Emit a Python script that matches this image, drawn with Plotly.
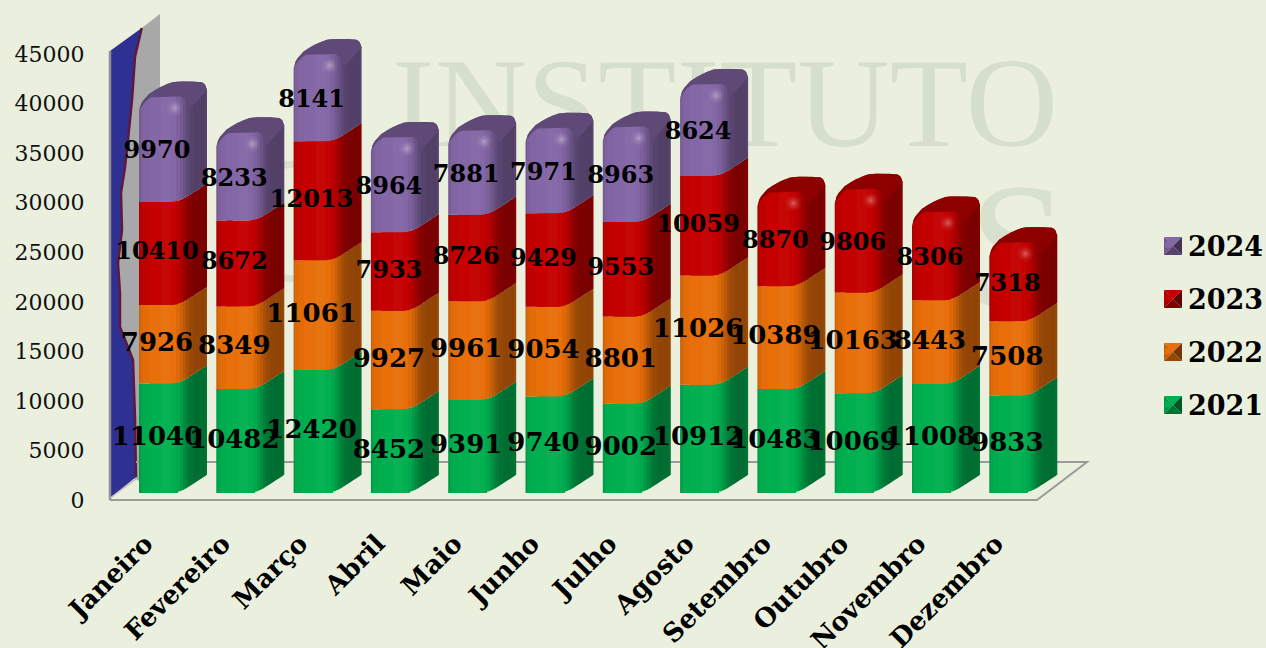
import numpy as np
import plotly.graph_objects as go

months = ["Janeiro","Fevereiro","Março","Abril","Maio","Junho","Julho","Agosto","Setembro","Outubro","Novembro","Dezembro"]
v2021 = [11040,10482,12420,8452,9391,9740,9002,10912,10483,10069,11008,9833]
v2022 = [7926,8349,11061,9927,9961,9054,8801,11026,10389,10163,8443,7508]
v2023 = [10410,8672,12013,7933,8726,9429,9553,10059,8870,9806,8306,7318]
v2024 = [9970,8233,8141,8964,7881,7971,8963,8624,None,None,None,None]
series_names = ["2021","2022","2023","2024"]
series_vals = [v2021,v2022,v2023,v2024]
series_cols = ["#00B050","#E86F0A","#C40000","#8467A6"]
label_sizes = [26,26,24,24]
y_ticks = list(range(0,45001,5000))

BG = "#EAF0DD"
L,R,T,B = 110,1090,0,510
W,H = 1266,648
PITCH = 77.3
PX0 = 164
SCALE = 0.00991
Y0 = 497
OFF = (Y0-493)/SCALE
FW = 50.0

def px_x(u, i): return i + (u-FW/2)/PITCH
def rise(px): return px/SCALE
def pap(x,y): return (x-L)/(R-L), 1-(y-T)/(B-T)
def path(pts, close=True):
    s=[]
    for k,(x,y) in enumerate(pts):
        a,b=pap(x,y)
        s.append(("M" if k==0 else "L")+f"{a:.5f},{b:.5f}")
    return " ".join(s)+(" Z" if close else "")

def shade(hexc,f):
    r,g,b=[int(hexc[j:j+2],16) for j in (1,3,5)]
    c=[min(255,int(x*f)) if f<=1 else min(255,int(x+(255-x)*(f-1))) for x in (r,g,b)]
    return "rgb(%d,%d,%d)"%tuple(c)

def edge(u):
    u=np.asarray(u,float)
    return np.where(u<31,0,np.where(u<49,0.65*(u-31)**2/36,5.85+0.65*(u-49)))
cap_u=[0,1,3,6,11,21,30,35,40,60,64,66,68]
cap_r=[-8,-3,1,5,10,16,20,21.2,21.5,21.5,20.5,18.5,13]
def cap(u): return np.interp(u,cap_u,cap_r)
capl_u=[0,2,5,9,14,42,46,49,51,68]
capl_r=[-8,-4,0,4,6.5,6.5,4,0,-6,13]

strips=[(0,1.5,.88),(1.5,4,.95),(4,10,.98),(10,22,1.0),(22,32,1.03),(32,37,1.0),(37,41,.95),(41,44,.88),(44,47,.80),(47,50,.72),(50,54,.66),(54,62,.63),(62,66,.62),(66,68,.66)]

fig=go.Figure()
wm_x=[(725-PX0)/PITCH,(1018-PX0)/PITCH,(285-PX0)/PITCH]
wm_y=[(Y0-114)/SCALE,(Y0-262)/SCALE,(Y0-235)/SCALE]
fig.add_trace(go.Scatter(x=wm_x[:1],y=wm_y[:1],mode="text",text=["INSTITUTO"],showlegend=False,hoverinfo="skip",
    textfont=dict(family="Liberation Serif",size=128,color="#D6DFCB")))
fig.add_trace(go.Scatter(x=wm_x[1:],y=wm_y[1:],mode="text",text=["S","C"],showlegend=False,hoverinfo="skip",
    textfont=dict(family="Liberation Serif",size=180,color="#D8E0CE")))

n=len(months)
cum=[0]*n
bases=[]
for vals in series_vals:
    base=[]
    for i in range(n):
        base.append(cum[i])
        if vals[i] is not None: cum[i]+=vals[i]
    bases.append(base)
totals=cum

for s,(name,vals,col) in enumerate(zip(series_names,series_vals,series_cols)):
    fig.add_trace(go.Bar(x=list(range(n)),y=vals,base=[OFF+b for b in bases[s]],width=28/PITCH,name=name,
        marker=dict(color=col,line=dict(width=0)),showlegend=False,hoverinfo="skip"))
# legend entries, newest year first as in the reference
for name,col in list(zip(series_names,series_cols))[::-1]:
    fig.add_trace(go.Scatter(x=[None],y=[None],mode="markers",name=name,legendgroup=name,
        marker=dict(size=6,color=col,symbol="square"),hoverinfo="skip"))

for s,(name,vals,col) in enumerate(zip(series_names,series_vals,series_cols)):
    for (u0,u1,f) in strips:
        xs,ys=[],[]
        for i in range(n):
            if vals[i] is None: continue
            lo=OFF+bases[s][i]; hi=lo+vals[i]
            top=(hi>=OFF+totals[i]-0.5)
            us=np.linspace(u0,min(u1+0.7,68),6)
            xs+=[px_x(u,i) for u in us]
            ys+=[hi+rise(c) for c in (cap(us) if top else edge(us))]
            xs+=[px_x(u,i) for u in us[::-1]]
            ys+=[lo+rise(c) for c in edge(us[::-1])]
            xs.append(None); ys.append(None)
        fig.add_trace(go.Scatter(x=xs,y=ys,mode="lines",fill="toself",fillcolor=shade(col,f),
            line=dict(width=0),showlegend=False,hoverinfo="skip"))
    xs,ys,hx,hy=[],[],[],[]
    for i in range(n):
        if vals[i] is None: continue
        hi=OFF+bases[s][i]+vals[i]
        if hi<OFF+totals[i]-0.5: continue
        uu=np.linspace(0,68,60)
        xs+=[px_x(u,i) for u in uu]; ys+=[hi+rise(c) for c in cap(uu)]
        ul=np.linspace(68,0,60)
        xs+=[px_x(u,i) for u in ul]; ys+=[hi+rise(c) for c in np.interp(ul,capl_u,capl_r)]
        xs.append(None); ys.append(None)
        hx.append(px_x(36,i)); hy.append(hi-rise(5))
    if hx:
        fig.add_trace(go.Scatter(x=xs,y=ys,mode="lines",fill="toself",fillcolor=shade(col,.72),
            line=dict(width=0),showlegend=False,hoverinfo="skip"))
        for sz,op in ((16,.07),(12,.1),(9,.14),(6,.2),(3,.3)):
            fig.add_trace(go.Scatter(x=hx,y=hy,mode="markers",showlegend=False,hoverinfo="skip",
                marker=dict(size=sz,color=shade(col,1.55),opacity=op,line=dict(width=0))))

# data labels
for s,(name,vals) in enumerate(zip(series_names,series_vals)):
    lx,ly,lt=[],[],[]
    for i in range(n):
        if vals[i] is None: continue
        lx.append(i-7/PITCH); ly.append(OFF+bases[s][i]+vals[i]/2); lt.append(str(vals[i]))
    fig.add_trace(go.Scatter(x=lx,y=ly,mode="text",text=lt,textposition="middle center",showlegend=False,hoverinfo="skip",
        textfont=dict(family="DejaVu Serif",size=label_sizes[s],color="#000",weight=700)))

wave=[(141.7,28),(135,57),(132,100),(128,140),(125,167),(121,193),(122,230),(118,263),(120,293),(120,327),(128,347),(133,360),(135,417),(136,477)]
shapes=[
 dict(type="path",xref="paper",yref="paper",layer="below",path=path([(118,60),(141.7,28),(160,14),(160,90),(139,120),(139,481),(136,479),(118,479)]),fillcolor="#A8A8A8",line=dict(width=0)),
 dict(type="path",xref="paper",yref="paper",layer="below",path=path([(110,51),(141.7,28)]+wave[1:]+[(110,498)]),fillcolor="#2E3192",line=dict(width=0)),
 dict(type="path",xref="paper",yref="paper",layer="below",path=path(wave,False),line=dict(color="#5E1A3E",width=2.5)),
 dict(type="path",xref="paper",yref="paper",layer="below",path=path([(110,500),(1037,500),(1087,462),(136,462)],False),line=dict(color="#9A9A9A",width=2)),
 dict(type="path",xref="paper",yref="paper",layer="below",path=path([(110,500),(110,51)],False),line=dict(color="#8E8E98",width=2.5)),
 dict(type="path",xref="paper",yref="paper",layer="below",path=path([(110,498),(136,479)],False),line=dict(color="#B8B8B8",width=1.5)),
]
leg_ys=[246,299,352,405]
leg_cols=series_cols[::-1]
for yc,c in zip(leg_ys,leg_cols):
    x0,x1,y0,y1=1164,1182,yc-9,yc+9
    cx,cy=(x0+x1)/2,(y0+y1)/2
    for tri,f in (([(x0,y0),(x1,y0),(cx,cy)],1.0),([(x0,y0),(x0,y1),(cx,cy)],.85),([(x1,y0),(x1,y1),(cx,cy)],.5),([(x0,y1),(x1,y1),(cx,cy)],.65)):
        shapes.append(dict(type="path",xref="paper",yref="paper",layer="above",path=path(tri),fillcolor=shade(c,f),line=dict(width=0)))

fig.update_layout(
    width=W,height=H,autosize=False,paper_bgcolor=BG,plot_bgcolor="rgba(0,0,0,0)",
    barmode="overlay",bargap=0,
    margin=dict(l=L,r=W-R,t=T,b=H-B,pad=0,autoexpand=False),
    shapes=shapes,
    legend=dict(x=(1148-L)/(R-L),y=1-(221-T)/(B-T),xanchor="left",yanchor="top",bgcolor="rgba(0,0,0,0)",
        traceorder="grouped",tracegroupgap=15,itemwidth=30,itemclick=False,itemdoubleclick=False,
        font=dict(family="DejaVu Serif",size=27,color="#000",weight=700)),
    xaxis=dict(range=[(L-PX0)/PITCH,(R-PX0)/PITCH],tickmode="array",tickvals=[i-0.24 for i in range(n)],ticktext=months,
        tickangle=-45,ticks="outside",ticklen=7,tickcolor="rgba(0,0,0,0)",showgrid=False,zeroline=False,showline=False,
        tickfont=dict(family="DejaVu Serif",size=26,color="#000",weight=700)),
    yaxis=dict(range=[(Y0-B)/SCALE,(Y0-T)/SCALE],tickmode="array",tickvals=y_ticks,ticktext=[str(t) for t in y_ticks],
        ticks="outside",ticklen=20,tickcolor="rgba(0,0,0,0)",showgrid=False,zeroline=False,showline=False,
        ticklabelshift=3,
        tickfont=dict(family="DejaVu Serif",size=22,color="#111")),
)
fig.write_html("out.html",config=dict(displayModeBar=False),post_script="document.body.style.margin='0';document.body.style.background='%s';"%BG)
